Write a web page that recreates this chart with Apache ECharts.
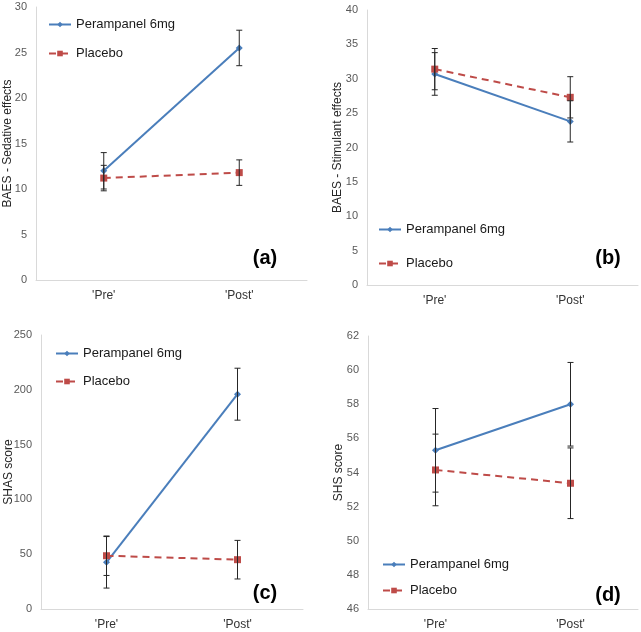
<!DOCTYPE html>
<html><head><meta charset="utf-8">
<script src="https://cdn.jsdelivr.net/npm/echarts@6/dist/echarts.min.js"></script>
<style>html,body{margin:0;padding:0;background:#fff}#c{width:641px;height:632px}</style>
</head><body><div id="c"></div>
<script>
const categories = ["'Pre'", "'Post'"];
const seriesNames = ['Perampanel 6mg', 'Placebo'];
// Panel (a) BAES - Sedative effects
const aPeram = [12.0, 25.5];
const aPeramErr = [2.0, 1.95];
const aPlacebo = [11.2, 11.8];
const aPlaceboErr = [1.4, 1.4];
// Panel (b) BAES - Stimulant effects
const bPeram = [30.7, 23.8];
const bPeramErr = [3.1, 3.0];
const bPlacebo = [31.4, 27.3];
const bPlaceboErr = [3.0, 3.0];
// Panel (c) SHAS score
const cPeram = [42.6, 196];
const cPeramErr = [23.5, 23.7];
const cPlacebo = [48.6, 45];
const cPlaceboErr = [18, 17.6];
// Panel (d) SHS score
const dPeram = [55.3, 58.0];
const dPeramErr = [2.45, 2.45];
const dPlacebo = [54.15, 53.37];
const dPlaceboErr = [2.1, 2.07];

const yTitles = ['BAES - Sedative effects', 'BAES - Stimulant effects', 'SHAS score', 'SHS score'];
const yRanges = [[0, 30, 5], [0, 40, 5], [0, 250, 50], [46, 62, 2]];
const panelLabels = ['(a)', '(b)', '(c)', '(d)'];

const FONT = '"Liberation Sans", Arial, sans-serif';
const BLUE = '#4a7ebb', RED = '#be4b48', ERR = '#262626', AXIS = '#d9d9d9';

const panels = [
  {p: aPeram, pe: aPeramErr, q: aPlacebo, qe: aPlaceboErr},
  {p: bPeram, pe: bPeramErr, q: bPlacebo, qe: bPlaceboErr},
  {p: cPeram, pe: cPeramErr, q: cPlacebo, qe: cPlaceboErr},
  {p: dPeram, pe: dPeramErr, q: dPlacebo, qe: dPlaceboErr}
];

const grids = [
  {left: 36, top: 7, width: 271, height: 273},
  {left: 367, top: 10, width: 271, height: 275},
  {left: 41, top: 335, width: 262, height: 274},
  {left: 368, top: 336, width: 270, height: 273}
].map(g => Object.assign(g, {containLabel: false, outerBoundsMode: 'none'}));
const nameGaps = [22, 23, 26, 23];
const legendPos = [
  {left: 43, top: 13, itemGap: 16},
  {left: 373, top: 218, itemGap: 21},
  {left: 50, top: 342, itemGap: 15},
  {left: 377, top: 553, itemGap: 13}
];
const labelPos = [[265, 258], [608, 258], [265, 593], [608, 595]];

function errRender(params, api) {
  const x = api.value(0), lo = api.value(1), hi = api.value(2);
  const t = api.coord([x, hi]), b = api.coord([x, lo]);
  const w = 3;
  const st = {stroke: ERR, lineWidth: 1};
  return {type: 'group', children: [
    {type: 'line', shape: {x1: t[0], y1: t[1], x2: b[0], y2: b[1]}, style: st},
    {type: 'line', shape: {x1: t[0]-w, y1: t[1], x2: t[0]+w, y2: t[1]}, style: st},
    {type: 'line', shape: {x1: b[0]-w, y1: b[1], x2: b[0]+w, y2: b[1]}, style: st}
  ]};
}

const series = [];
panels.forEach((pn, i) => {
  series.push({
    name: seriesNames[0], type: 'line', xAxisIndex: i, yAxisIndex: i,
    data: pn.p, symbol: 'diamond', symbolSize: 7, color: BLUE,
    lineStyle: {color: BLUE, width: 2}, itemStyle: {color: BLUE}, z: 3
  });
  series.push({
    name: seriesNames[1], type: 'line', xAxisIndex: i, yAxisIndex: i,
    data: pn.q, symbol: 'rect', symbolSize: 7, color: RED,
    lineStyle: {color: RED, width: 2, type: [7, 5]}, itemStyle: {color: RED}, z: 3
  });
  const errData = [];
  pn.p.forEach((v, k) => errData.push([k, v - pn.pe[k], v + pn.pe[k]]));
  pn.q.forEach((v, k) => errData.push([k, v - pn.qe[k], v + pn.qe[k]]));
  series.push({
    type: 'custom', xAxisIndex: i, yAxisIndex: i, renderItem: errRender,
    data: errData, encode: {x: 0, y: [1, 2]}, z: 5, silent: true
  });
});

const option = {
  animation: false,
  backgroundColor: '#fff',
  textStyle: {fontFamily: FONT},
  grid: grids,
  xAxis: grids.map((g, i) => ({
    type: 'category', gridIndex: i, data: categories, boundaryGap: true,
    axisLine: {lineStyle: {color: AXIS, width: 1}}, axisTick: {show: false},
    axisLabel: {color: '#333', fontSize: 12, fontFamily: FONT, margin: 10}
  })),
  yAxis: grids.map((g, i) => ({
    type: 'value', gridIndex: i, min: yRanges[i][0], max: yRanges[i][1], interval: yRanges[i][2],
    name: yTitles[i], nameLocation: 'middle', nameGap: nameGaps[i], nameMoveOverlap: false,
    nameTextStyle: {color: '#262626', fontSize: 12, fontFamily: FONT},
    axisLine: {show: true, lineStyle: {color: AXIS, width: 1}}, axisTick: {show: false},
    splitLine: {show: false},
    axisLabel: {color: '#595959', fontSize: 11, fontFamily: FONT, margin: 9}
  })),
  legend: legendPos.map(lp => ({
    data: seriesNames, orient: 'vertical', left: lp.left, top: lp.top, itemGap: lp.itemGap,
    itemWidth: 22, itemHeight: 7,
    textStyle: {color: '#1a1a1a', fontSize: 13, fontFamily: FONT}
  })),
  graphic: labelPos.map((p, i) => ({
    type: 'text', x: p[0], y: p[1],
    style: {text: panelLabels[i], font: 'bold 20px ' + FONT, fill: '#000', textAlign: 'center', textVerticalAlign: 'middle'}
  })),
  series: series
};
echarts.init(document.getElementById('c'), null, {renderer: 'canvas'}).setOption(option);
</script></body></html>
